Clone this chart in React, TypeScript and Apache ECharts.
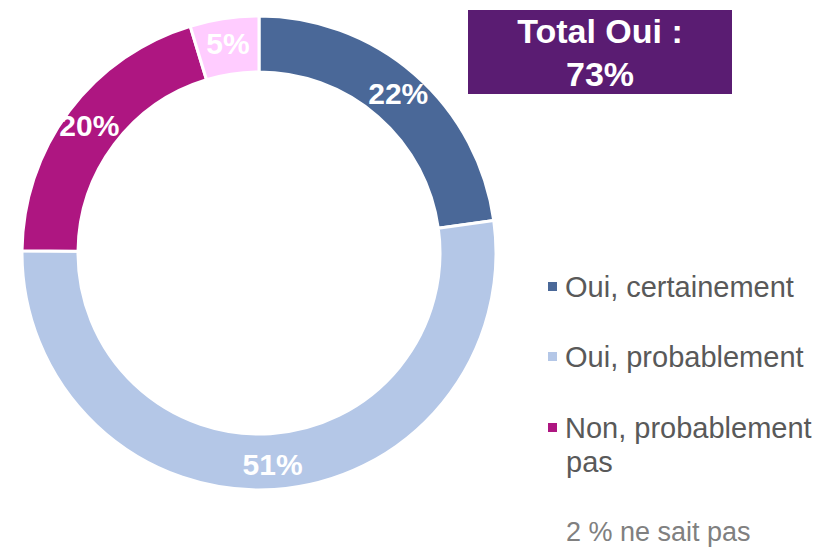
import React, { useEffect, useRef } from "react";
import * as echarts from "echarts";

const categories = ["Oui, certainement", "Oui, probablement", "Non, probablement pas", "Non, certainement pas"];
const values = [22.4, 51.4, 19.8, 4.6];
const colors = ["#4a6898", "#b4c7e7", "#ae1681", "#ffccff"];
const legendLabels = ["Oui, certainement", "Oui, probablement", "Non, probablement"];
const titleText = "Total Oui :\n73%";
const noteText = "2 % ne sait pas";

const FONT = "'Liberation Sans', Arial, sans-serif";

export default function App() {
  const ref = useRef<HTMLDivElement>(null);
  useEffect(() => {
    document.body.style.margin = "0";
    const chart = echarts.init(ref.current!, null, { renderer: "svg" });
    const legendCenters = [287, 357, 428];
    chart.setOption({
      animation: false,
      backgroundColor: "#ffffff",
      legend: legendCenters.map((c, i) => ({
        data: [categories[i]],
        left: 541,
        top: c - 20,
        orient: "vertical",
        icon: "rect",
        itemWidth: 11,
        itemHeight: 11,
        itemGap: 0,
        selectedMode: false,
        formatter: () => legendLabels[i],
        textStyle: { color: "#595959", fontSize: 29, fontFamily: FONT, padding: [0, 0, 0, 2] },
      })),
      graphic: [
        {
          type: "rect",
          shape: { x: 468, y: 10, width: 264, height: 84 },
          style: { fill: "#5a1c72" },
        },
        {
          type: "text",
          x: 600,
          y: 52,
          style: {
            text: titleText,
            fill: "#ffffff",
            font: `bold 34px ${FONT}`,
            align: "center",
            verticalAlign: "middle",
            lineHeight: 43,
          },
        },
        {
          type: "text",
          x: 566,
          y: 462,
          style: { text: "pas", fill: "#595959", font: `29px ${FONT}`, verticalAlign: "middle" },
        },
        {
          type: "text",
          x: 566,
          y: 532,
          style: { text: noteText, fill: "#808080", font: `27px ${FONT}`, verticalAlign: "middle" },
        },
      ],
      series: [
        {
          type: "pie",
          center: [259, 253],
          radius: [181, 237],
          startAngle: 90,
          clockwise: true,
          label: {
            show: true,
            position: "inside",
            formatter: (p: any) => `${Math.round(p.value)}%`,
            color: "#ffffff",
            fontSize: 30,
            fontWeight: "bold",
            fontFamily: FONT,
          },
          labelLine: { show: false },
          emphasis: { disabled: true },
          itemStyle: { borderColor: "#ffffff", borderWidth: 3 },
          data: categories.map((name, i) => ({
            name,
            value: values[i],
            itemStyle: { color: colors[i] },
          })),
        },
      ],
    });
    return () => chart.dispose();
  }, []);
  return <div ref={ref} style={{ width: 827, height: 552 }} />;
}
